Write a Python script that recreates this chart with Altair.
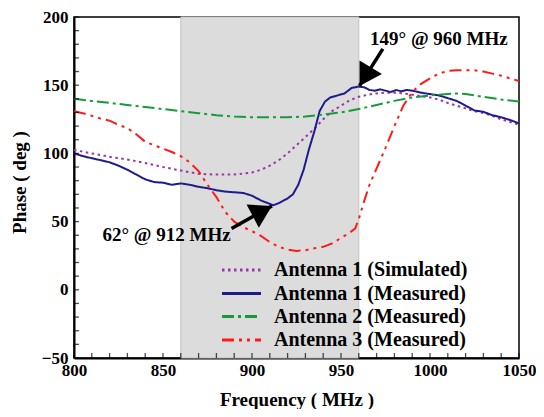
import altair as alt
import pandas as pd

FONT = "'Liberation Serif', 'Times New Roman', 'DejaVu Serif', serif"

series_names = ["Antenna 1 (Simulated)", "Antenna 1 (Measured)", "Antenna 2 (Measured)", "Antenna 3 (Measured)"]
series_colors = ["#9a35a8", "#1c1c8c", "#179a3a", "#ff1a1a"]
series_dashes = [[2.5, 3.5], [1, 0], [12, 4, 3, 4], [12, 5, 3, 5, 3, 5]]

a1s_f = [800, 810, 820, 830, 840, 850, 860, 870, 880, 890, 900, 905, 910, 915, 920, 925, 930, 935, 940, 945,
         950, 955, 960, 965, 970, 975, 980, 985, 990, 995, 1000, 1005, 1010, 1015, 1020, 1025, 1030, 1035,
         1040, 1045, 1050]
a1s_v = [102.5, 100, 97.5, 95.5, 93, 90, 87.5, 85, 84.5, 84.5, 86, 88, 91, 95, 100, 106, 112, 118, 125, 131,
         135, 139, 141.5, 143, 144, 144.5, 144.5, 144, 143, 142, 141, 139.5, 137, 135, 133, 131, 129.5, 127.5,
         125, 123, 121]

a1m_f = [800, 805, 810, 815, 820, 825, 830, 835, 840, 845, 850, 855, 860, 865, 870, 875, 880, 885, 890, 895,
         900, 905, 910, 912, 915, 920, 923, 926, 929, 932, 935, 938, 941, 944, 948, 952, 956, 960, 963, 966,
         969, 972, 975, 978, 981, 984, 987, 990, 995, 1000, 1005, 1010, 1015, 1020, 1025, 1030, 1035, 1040,
         1045, 1050]
a1m_v = [100, 98, 96.5, 95, 93.5, 91, 88, 84.5, 81, 79, 78.5, 77, 78, 77, 75.5, 74.5, 73, 72, 71.5, 71,
         69, 65.5, 63, 62, 63.5, 67, 70, 77, 88, 103, 116, 131, 138, 141, 142.5, 144, 148, 149, 148.5, 146.5,
         146, 147, 146, 145, 146.5, 145.5, 146.5, 146, 144.5, 143.5, 142.5, 140.5, 138.5, 135, 131.5, 130.5,
         128, 126.5, 124.5, 122]

a2m_f = [800, 810, 820, 830, 840, 850, 860, 870, 880, 890, 900, 910, 920, 930, 940, 950, 960, 970, 980, 990,
         1000, 1010, 1015, 1020, 1030, 1040, 1050]
a2m_v = [140, 138.5, 137, 135.5, 134, 132.5, 131, 129.5, 128, 127, 126.5, 126.5, 126.5, 127, 128.5, 130,
         132.5, 135.5, 138.5, 141, 142.5, 143.5, 144, 143.5, 141.5, 139.5, 138]

a3m_f = [800, 805, 810, 815, 820, 825, 830, 835, 840, 845, 850, 855, 860, 865, 870, 875, 880, 885, 890, 895,
         900, 905, 910, 915, 920, 925, 930, 935, 940, 945, 950, 955, 958, 960, 963, 966, 970, 975, 980, 985,
         990, 995, 1000, 1005, 1010, 1015, 1020, 1025, 1030, 1035, 1040, 1045, 1050]
a3m_v = [131, 129.5, 127.5, 125.5, 124, 121, 118.5, 114, 108.5, 106, 103.5, 101, 98, 93.5, 87, 77, 68, 57,
         50, 46, 43, 39.5, 35, 31.5, 29.5, 28.5, 29, 30.5, 31.5, 34, 38, 42, 45, 52, 65, 77, 89, 104, 120,
         135, 145, 151, 155, 158.5, 160.5, 161, 161, 161, 160, 158.5, 157, 155, 153]

band = [860, 960]
x_dom = [800, 1050]
y_dom = [-50, 200]
x_ticks = list(range(800, 1051, 10))
y_ticks = list(range(-50, 201, 10))
x_labels = [800, 850, 900, 950, 1000, 1050]
y_labels = [-50, 0, 50, 100, 150, 200]

ann_text = ["149° @ 960 MHz", "62° @ 912 MHz"]
ann_text_f = [1005, 852]
ann_text_v = [184, 40.5]
ann_tail_f = [973.5, 888.5]
ann_tail_v = [176.6, 45]
ann_tip_f = [960.4, 911.2]
ann_tip_v = [149.5, 61.5]
ann_angle = [211, 62]

W, H = 445, 341

rows = []
for name, fs, vs in zip(series_names, [a1s_f, a1m_f, a2m_f, a3m_f], [a1s_v, a1m_v, a2m_v, a3m_v]):
    for f, v in zip(fs, vs):
        rows.append({"series": name, "freq": f, "phase": v})
df = pd.DataFrame(rows)

xs = alt.Scale(domain=x_dom, nice=False, zero=False)
ys = alt.Scale(domain=y_dom, nice=False, zero=False)
cs = alt.Scale(domain=series_names, range=series_colors)
ds = alt.Scale(domain=series_names, range=series_dashes)

xaxis = alt.Axis(values=x_labels, format="d", tickSize=0, labelFont=FONT, labelFontSize=17,
                 labelFontWeight="bold", labelColor="black", labelPadding=4, labelFlush=False,
                 domainColor="black", domainWidth=2, grid=False,
                 title="Frequency ( MHz )", titleFont=FONT, titleFontSize=19, titleFontWeight="bold",
                 titleColor="black", titleY=47, titleBaseline="alphabetic")
yaxis = alt.Axis(values=y_labels, format="d", tickSize=0, labelFont=FONT, labelFontSize=17,
                 labelFontWeight="bold", labelColor="black", labelPadding=6, labelFlush=False,
                 domainColor="black", domainWidth=2, grid=False,
                 title="Phase ( deg )", titleFont=FONT, titleFontSize=19, titleFontWeight="bold",
                 titleColor="black", titleX=-55, titleY=165, titleAngle=-90, titleAlign="center",
                 titleBaseline="middle")

band_df = pd.DataFrame({"x": [band[0]], "x2": [band[1]], "y": [y_dom[0]], "y2": [y_dom[1]]})
band_layer = alt.Chart(band_df).mark_rect(color="#dcdcdc", stroke="#c2c2c2", strokeWidth=1).encode(
    x=alt.X("x:Q", scale=xs, axis=xaxis), x2="x2:Q",
    y=alt.Y("y:Q", scale=ys, axis=yaxis), y2="y2:Q")

lines = alt.Chart(df).mark_line(strokeWidth=2, clip=True).encode(
    x=alt.X("freq:Q", scale=xs),
    y=alt.Y("phase:Q", scale=ys),
    color=alt.Color("series:N", scale=cs, legend=None),
    strokeDash=alt.StrokeDash("series:N", scale=ds, legend=None),
    detail="series:N",
)

xt = pd.DataFrame({"t": x_ticks})
yt = pd.DataFrame({"t": y_ticks})
xtick_layer = alt.Chart(xt).mark_tick(color="black", thickness=1.3, size=5, orient="vertical").encode(
    x=alt.X("t:Q", scale=xs), y=alt.value(H - 2.5))
ytick_layer = alt.Chart(yt).mark_tick(color="black", thickness=1.3, size=5, orient="horizontal").encode(
    y=alt.Y("t:Q", scale=ys), x=alt.value(2.5))

ann_df = pd.DataFrame({"text": ann_text, "tf": ann_text_f, "tv": ann_text_v,
                       "af": ann_tail_f, "av": ann_tail_v, "hf": ann_tip_f, "hv": ann_tip_v,
                       "ang": ann_angle})
shafts = alt.Chart(ann_df).mark_rule(color="black", strokeWidth=3.5).encode(
    x=alt.X("af:Q", scale=xs), y=alt.Y("av:Q", scale=ys), x2="hf:Q", y2="hv:Q")
heads = alt.Chart(ann_df).mark_point(shape="M0,0L-0.6,1L0.6,1Z", filled=True, color="black",
                                     opacity=1, size=1900).encode(
    x=alt.X("hf:Q", scale=xs), y=alt.Y("hv:Q", scale=ys), angle=alt.Angle("ang:Q", scale=None))
ann_texts = alt.Chart(ann_df).mark_text(font=FONT, fontSize=19, fontWeight="bold", color="black",
                                        align="center", baseline="middle").encode(
    x=alt.X("tf:Q", scale=xs), y=alt.Y("tv:Q", scale=ys), text="text:N")

leg_df = pd.DataFrame({"series": series_names, "ly": [253, 276.5, 299.5, 323]})
leg_rules = alt.Chart(leg_df).mark_rule(strokeWidth=3).encode(
    x=alt.value(148), x2=alt.value(187), y=alt.Y("ly:Q", scale=None),
    color=alt.Color("series:N", scale=cs, legend=None),
    strokeDash=alt.StrokeDash("series:N", scale=ds, legend=None))
leg_text = alt.Chart(leg_df).mark_text(font=FONT, fontSize=20, fontWeight="bold", color="black",
                                       align="left", baseline="middle").encode(
    x=alt.value(200), y=alt.Y("ly:Q", scale=None), text="series:N")

chart = alt.layer(band_layer, lines, xtick_layer, ytick_layer, shafts, heads, ann_texts,
                  leg_rules, leg_text).properties(
    width=W, height=H,
    autosize=alt.AutoSizeParams(type="none"),
    padding={"left": 66, "top": 9, "right": 17, "bottom": 51},
).configure_view(stroke="black", strokeWidth=1.5)

chart.save("out.html", embed_options={"renderer": "svg", "actions": False})
